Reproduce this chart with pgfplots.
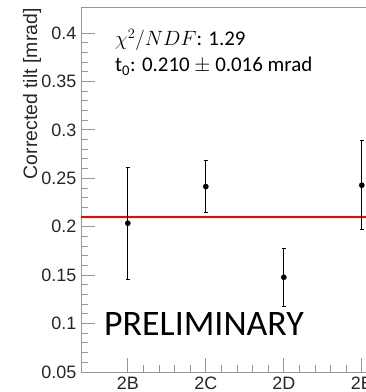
\documentclass[border=0pt]{standalone}
\usepackage{fontspec}
\setmainfont{Liberation Sans}
\newfontfamily\calibri{Carlito}
\usepackage{pgfplots}
\pgfplotsset{compat=1.18}
\definecolor{axgray}{RGB}{150,150,150}
\begin{document}
\begin{tikzpicture}
\begin{axis}[
  scale only axis,
  width=327.6bp, height=364.7bp,
  at={(81bp,20bp)}, anchor=south west,
  xmin=-0.6, xmax=3.6,
  ymin=0.05, ymax=0.4265,
  xtick={0,1,2,3},
  xticklabels={2B,2C,2D,2E},
  minor x tick num=4,
  ytick={0.05,0.1,0.15,0.2,0.25,0.3,0.35,0.4},
  yticklabels={0.05,0.1,0.15,0.2,0.25,0.3,0.35,0.4},
  minor y tick num=4,
  xtick pos=left, ytick pos=left,
  tick align=inside,
  major tick length=14bp, minor tick length=7bp,
  axis line style={axgray, line width=1bp},
  every tick/.style={axgray, line width=0.9bp},
  tick label style={font=\fontsize{18}{20}\selectfont, text=black!85},
  yticklabel style={inner sep=0pt, xshift=-4.5bp},
  xticklabel style={inner sep=0pt, yshift=-4.5bp},
  ylabel={Corrected tilt [mrad]},
  every axis y label/.style={at={(ticklabel cs:1)}, rotate=90, anchor=south east, inner sep=1bp, yshift=-1bp},
  ylabel style={font=\fontsize{19.5}{21}\selectfont, text=black!85},
  clip=false,
]
\addplot[red, line width=1.5bp] coordinates {(-0.6,0.210) (3.6,0.210)};
\addplot[black, only marks, mark=*, mark size=2.6bp,
  error bars/.cd, y dir=both, y explicit,
  error bar style={black, line width=0.8bp},
  error mark options={rotate=90, mark size=2bp, black, line width=0.8bp}]
  coordinates {
    (0,0.2036) +- (0,0.058)
    (1,0.2414) +- (0,0.027)
    (2,0.1478) +- (0,0.030)
    (3,0.2428) +- (0,0.046)
  };
\end{axis}
\node[anchor=base west, inner sep=0pt] at (115bp,346bp)
  {\calibri\fontsize{21}{24}\selectfont $\chi^2/NDF$: 1.29};
\node[anchor=base west, inner sep=0pt] at (115bp,320bp)
  {\calibri\fontsize{21}{24}\selectfont t\textsubscript{0}: 0.210 $\pm$ 0.016 mrad};
\node[anchor=base west, inner sep=0pt] at (104bp,56bp)
  {\calibri\fontsize{36}{40}\selectfont PRELIMINARY};
\pgfresetboundingbox
\path (0,0) rectangle (366bp,392bp);
\end{tikzpicture}
\end{document}
